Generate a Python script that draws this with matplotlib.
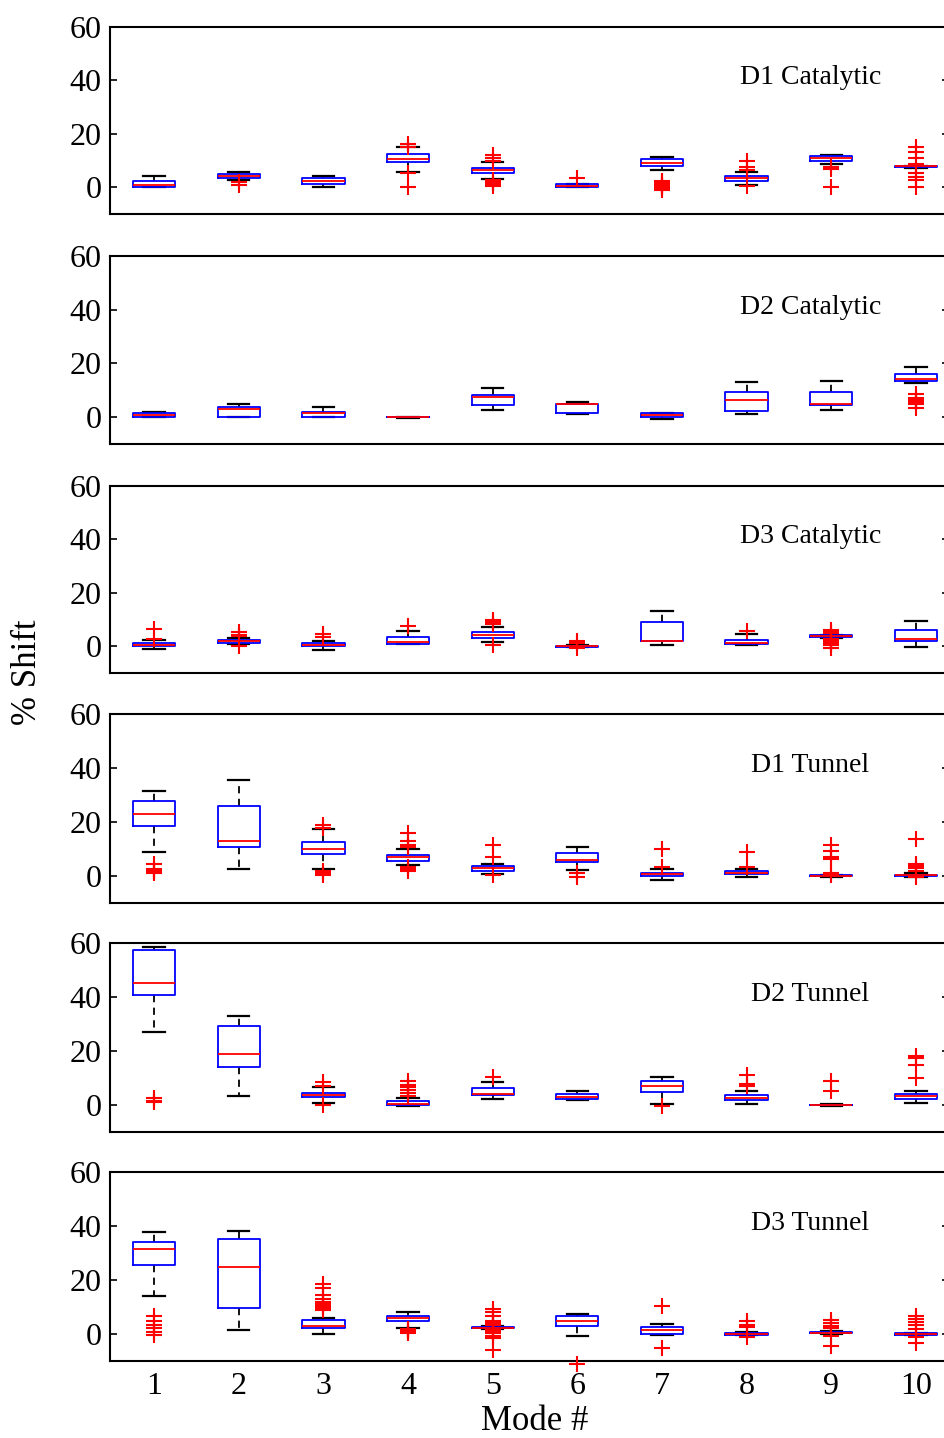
import matplotlib
matplotlib.use("Agg")
import matplotlib.pyplot as plt

plt.rcParams['font.family'] = ['Liberation Serif', 'DejaVu Serif']

modes = [1, 2, 3, 4, 5, 6, 7, 8, 9, 10]
panel_names = ['D1 Catalytic', 'D2 Catalytic', 'D3 Catalytic',
               'D1 Tunnel', 'D2 Tunnel', 'D3 Tunnel']

# per-panel box statistics (% shift), one row per panel, one column per mode
med = [
    [1.0, 4.4, 2.25, 10.75, 6.4, 0.4, 9.25, 3.5, 10.9, 7.8],
    [0.9, 3.1, 1.4, 0.0, 7.4, 4.75, 0.8, 6.25, 5.0, 14.1],
    [0.6, 1.9, 0.6, 1.6, 4.1, 0.0, 2.0, 1.25, 3.8, 2.75],
    [23.0, 13.1, 10.0, 6.9, 3.0, 5.75, 0.75, 1.25, 0.0, 0.3],
    [45.25, 19.0, 3.6, 0.5, 3.9, 3.0, 7.0, 2.75, 0.0, 3.4],
    [31.6, 24.9, 2.9, 6.1, 2.4, 4.9, 1.6, 0.0, 0.5, 0.0],
]
q1 = [
    [0.1, 3.6, 1.4, 9.3, 5.5, 0.0, 8.1, 2.5, 9.9, 7.5],
    [0.0, 0.0, 0.0, 0.0, 4.4, 1.4, 0.0, 2.25, 4.4, 13.4],
    [0.0, 1.25, 0.0, 1.0, 3.1, -0.1, 2.0, 0.75, 3.5, 2.0],
    [18.6, 10.6, 8.1, 5.6, 1.9, 5.0, 0.0, 0.6, -0.1, 0.0],
    [40.9, 14.0, 3.0, 0.0, 3.6, 2.1, 4.9, 1.75, -0.1, 2.4],
    [25.5, 9.5, 2.4, 4.75, 2.25, 3.0, 0.0, -0.3, 0.3, -0.2],
]
q3 = [
    [2.25, 5.1, 3.5, 12.3, 7.25, 1.1, 10.6, 4.25, 11.6, 7.9],
    [1.6, 3.9, 2.1, 0.1, 8.1, 5.0, 1.4, 9.4, 9.4, 16.0],
    [1.25, 2.5, 1.25, 3.5, 5.4, 0.1, 9.1, 2.25, 4.1, 6.0],
    [27.75, 25.9, 12.5, 7.75, 3.6, 8.4, 1.25, 1.75, 0.2, 0.5],
    [57.4, 29.25, 4.5, 1.4, 6.4, 4.0, 8.9, 3.6, 0.1, 4.0],
    [34.1, 35.1, 5.1, 6.75, 2.6, 6.75, 2.6, 0.4, 0.9, 0.3],
]
whis_lo = [
    [0.0, 2.6, 0.25, 5.75, 3.25, 0.0, 6.4, 0.75, 8.9, 7.4],
    [0.0, 0.0, 0.0, -0.3, 2.5, 1.3, -0.6, 1.25, 2.5, 12.75],
    [-0.9, 1.0, -1.5, 0.75, 1.6, -0.2, 0.4, 0.6, 3.2, -0.25],
    [9.0, 2.7, 2.5, 4.0, 0.9, 2.1, -1.4, -0.25, -0.2, -0.2],
    [27.0, 3.25, 0.9, -0.3, 2.1, 2.0, 0.25, 0.25, -0.2, 0.9],
    [13.9, 1.5, 0.0, 2.4, 2.0, -0.8, -0.2, -0.5, 0.0, -0.4],
]
whis_hi = [
    [4.1, 5.75, 4.1, 14.9, 9.4, 1.2, 11.25, 5.75, 12.1, 8.1],
    [2.0, 5.0, 3.75, 0.1, 11.0, 5.6, 1.7, 12.9, 13.5, 18.5],
    [2.25, 3.25, 2.0, 5.75, 7.25, 0.3, 13.1, 4.75, 4.3, 9.5],
    [31.5, 35.6, 17.5, 10.0, 4.6, 10.6, 2.75, 2.75, 0.3, 1.2],
    [58.6, 33.0, 6.5, 2.6, 8.6, 5.1, 10.5, 5.1, 0.2, 5.1],
    [37.6, 38.25, 6.0, 8.0, 2.8, 7.4, 3.6, 0.9, 1.2, 0.5],
]

# outliers per mode
d1_cat_out = [[], [2.0, 1.0], [], [16.2, 15.0, 5.5, 0.0],
              [12.0, 10.8, 9.8, 2.6, 1.8, 1.2, 0.4], [3.5],
              [2.2, 1.5, 1.0, 0.6, 0.2, -0.3, -1.2], [9.8, 7.5, 6.3, 0.3],
              [7.5, 6.8, 0.0], [15.0, 13.3, 11.0, 8.8, 5.2, 4.0, 2.6, 0.2]]
d2_cat_out = [[], [], [], [], [], [], [], [], [],
              [8.6, 7.2, 6.2, 5.6, 5.0, 3.5]]
d3_cat_out = [[6.6, 2.9], [5.2, 4.2, 3.7, 0.0], [4.5, 3.5], [7.6],
              [9.8, 9.0, 8.4, 0.3], [2.0, 1.2, -0.8], [], [5.6],
              [6.0, 5.2, 4.8, 2.8, 2.2, 1.6, 1.0, 0.4, -0.5], []]
d1_tun_out = [[4.5, 2.5, 2.0, 1.5, 1.0], [], [19.0, 17.8, 2.0, 1.0, 0.3],
              [15.8, 13.0, 11.3, 10.8, 3.2, 2.6, 2.0], [11.3, 7.2, 0.5],
              [1.0, -0.4], [10.0, 3.3], [8.8, 3.3],
              [11.5, 9.3, 7.0, 6.4, 1.0, 0.4],
              [13.8, 4.6, 3.8, 3.0, 2.0, -0.5]]
d2_tun_out = [[2.5, 1.5, 1.0], [], [8.5, 7.0, 0.0],
              [9.0, 7.5, 6.5, 5.5, 4.5, 3.5], [10.5], [], [-0.5],
              [11.2, 7.6, 7.0], [8.9, 5.2], [18.3, 17.5, 15.0, 10.0]]
d3_tun_out = [[6.5, 4.8, 3.5, 2.2, 0.8, -0.5], [],
              [18.5, 17.0, 14.5, 13.0, 12.0, 11.0, 10.5, 9.8, 9.0],
              [2.0, 1.6, 1.2, 0.8, 0.3],
              [9.3, 8.0, 6.5, 5.0, 4.0, 3.2, 1.5, 0.8, 0.2, -0.8, -1.5, -6.0],
              [-11.0], [10.5, -5.3], [5.0, 3.5, 2.5, -1.0],
              [5.2, 4.0, 3.0, 2.2, -0.8, -4.5],
              [6.8, 5.5, 4.5, 3.5, 2.0, -1.0, -3.5]]
outliers = [d1_cat_out, d2_cat_out, d3_cat_out, d1_tun_out, d2_tun_out, d3_tun_out]

yticks = [0, 20, 40, 60]

W, H = 944, 1438
fig = plt.figure(figsize=(W / 100, H / 100), dpi=100)

# panel frames in pixels: (top, bottom); axes run past the right edge
tops = [27, 256, 486, 714, 943, 1172]
bottoms = [214, 444, 673, 903, 1132, 1361]
left_px, right_px = 110, 949

for i in range(6):
    ax = fig.add_axes([left_px / W, 1 - bottoms[i] / H,
                       (right_px - left_px) / W, (bottoms[i] - tops[i]) / H])
    stats = []
    for j in range(10):
        stats.append(dict(med=med[i][j], q1=q1[i][j], q3=q3[i][j],
                          whislo=whis_lo[i][j], whishi=whis_hi[i][j],
                          fliers=outliers[i][j]))
    ax.bxp(stats, positions=modes, widths=0.5, showfliers=True,
           boxprops=dict(color='blue', linewidth=1.3, zorder=3),
           medianprops=dict(color='red', linewidth=1.3, zorder=4),
           whiskerprops=dict(color='black', linewidth=1.3,
                             linestyle=(0, (4, 3)), zorder=2),
           capprops=dict(color='black', linewidth=1.6, zorder=2),
           flierprops=dict(marker='+', markeredgecolor='red',
                           markersize=11, markeredgewidth=1.5,
                           linestyle='none', clip_on=False, zorder=5))
    ax.set_xlim(0.48, 10.39)
    ax.set_ylim(-10, 60)
    ax.set_yticks(yticks)
    ax.tick_params(axis='y', direction='in', length=5, width=1.2,
                   left=True, right=True, labelsize=23, pad=6)
    ax.tick_params(axis='x', length=0, labelsize=23, pad=8)
    if i < 5:
        ax.set_xticklabels([])
    else:
        ax.set_xticklabels([str(m) for m in modes])
    for side in ['left', 'bottom', 'top', 'right']:
        ax.spines[side].set_linewidth(1.5)
    ax.text(8.75, 41, panel_names[i], ha='center', va='center', fontsize=20)

fig.text(28 / W, 1 - 672 / H, '% Shift', rotation=90, ha='center',
         va='center', fontsize=25)
fig.text(535 / W, 1 - 1422 / H, 'Mode #', ha='center', va='center',
         fontsize=25)

fig.savefig('out.png', dpi=100)
